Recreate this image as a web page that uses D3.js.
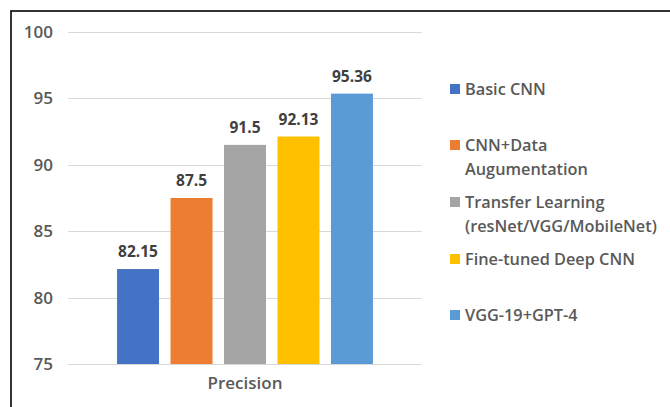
<!DOCTYPE html>
<html>
<head>
<meta charset="utf-8">
<script src="https://cdn.jsdelivr.net/npm/d3@7"></script>
<style>
  html, body { margin: 0; padding: 0; background: #fff; }
  svg { display: block; }
  text { font-family: "Open Sans", "DejaVu Sans", sans-serif; }
</style>
</head>
<body>
<svg id="chart" width="670" height="407"></svg>
<script>
// Chart data
const categories = ["Precision"];
const seriesNames = [
  "Basic CNN",
  "CNN+Data Augumentation",
  "Transfer Learning (resNet/VGG/MobileNet)",
  "Fine-tuned Deep CNN",
  "VGG-19+GPT-4"
];
const seriesValues = [82.15, 87.5, 91.5, 92.13, 95.36];
const seriesColors = ["#4472C4", "#ED7D31", "#A5A5A5", "#FFC000", "#5B9BD5"];
const legendLines = [
  ["Basic CNN"],
  ["CNN+Data", "Augumentation"],
  ["Transfer Learning", "(resNet/VGG/MobileNet)"],
  ["Fine-tuned Deep CNN"],
  ["VGG-19+GPT-4"]
];
const yTicks = [75, 80, 85, 90, 95, 100];

const svg = d3.select("#chart");

// Outer frame (extends past right and bottom edges)
svg.append("rect")
  .attr("x", 11).attr("y", 11)
  .attr("width", 700).attr("height", 450)
  .attr("fill", "#fff")
  .attr("stroke", "#000").attr("stroke-width", 1.6);

const plot = { left: 68, right: 422, top: 32, bottom: 364 };

const y = d3.scaleLinear().domain([75, 100]).range([plot.bottom, plot.top]);

const x0 = d3.scaleBand().domain(categories)
  .range([plot.left, plot.right])
  .paddingInner(0).paddingOuter(0.162);

const x1 = d3.scaleBand().domain(seriesNames)
  .range([0, x0.bandwidth()])
  .paddingInner(0.215).paddingOuter(0.1075);

// Gridlines
svg.append("g")
  .selectAll("line")
  .data(yTicks)
  .join("line")
  .attr("x1", plot.left).attr("x2", plot.right)
  .attr("y1", d => Math.round(y(d)) + 0.5)
  .attr("y2", d => Math.round(y(d)) + 0.5)
  .attr("stroke", "#d9d9d9").attr("stroke-width", 1);

// Y axis labels
const yAxis = d3.axisLeft(y).tickValues(yTicks).tickSize(0).tickPadding(0);
const yg = svg.append("g")
  .attr("transform", `translate(${53},0)`)
  .call(yAxis);
yg.select(".domain").remove();
yg.selectAll("text")
  .attr("fill", "#595959")
  .style("font-size", "17px")
  .style("font-weight", "600")
  .style("font-family", "'Open Sans', sans-serif");

// Bars
const groups = svg.append("g")
  .selectAll("g")
  .data(categories)
  .join("g")
  .attr("transform", d => `translate(${x0(d)},0)`);

const barData = seriesNames.map((name, i) => ({ name, value: seriesValues[i], color: seriesColors[i] }));

groups.selectAll("rect")
  .data(barData)
  .join("rect")
  .attr("x", d => x1(d.name))
  .attr("y", d => y(d.value))
  .attr("width", x1.bandwidth())
  .attr("height", d => y(75) - y(d.value))
  .attr("fill", d => d.color);

// Value labels
groups.selectAll("text.val")
  .data(barData)
  .join("text")
  .attr("class", "val")
  .attr("x", d => x1(d.name) + x1.bandwidth() / 2)
  .attr("y", d => y(d.value) - 12)
  .attr("text-anchor", "middle")
  .attr("fill", "#404040")
  .style("font-size", "15.5px")
  .style("font-weight", "700")
  .text(d => d.value);

// Category axis label
const xAxis = d3.axisBottom(x0).tickSize(0).tickPadding(0);
const xg = svg.append("g")
  .attr("transform", `translate(0,${plot.bottom + 13})`)
  .call(xAxis);
xg.select(".domain").remove();
xg.selectAll("text")
  .attr("dy", "0.71em")
  .attr("fill", "#595959")
  .style("font-size", "17px")
  .style("font-weight", "600")
  .style("font-family", "'Open Sans', sans-serif");

// Legend
const legendY = [89, 145, 202, 259, 315];
const legend = svg.append("g")
  .selectAll("g")
  .data(barData)
  .join("g")
  .attr("transform", (d, i) => `translate(450,${legendY[i]})`);

legend.append("rect")
  .attr("x", 0).attr("y", -5)
  .attr("width", 10).attr("height", 10)
  .attr("fill", d => d.color);

legend.append("text")
  .attr("x", 15)
  .attr("fill", "#595959")
  .style("font-size", "16.3px")
  .style("font-weight", "600")
  .selectAll("tspan")
  .data((d, i) => legendLines[i])
  .join("tspan")
  .attr("x", 15)
  .attr("dy", (d, j) => j === 0 ? "0.35em" : "24px")
  .text(d => d);
</script>
</body>
</html>
